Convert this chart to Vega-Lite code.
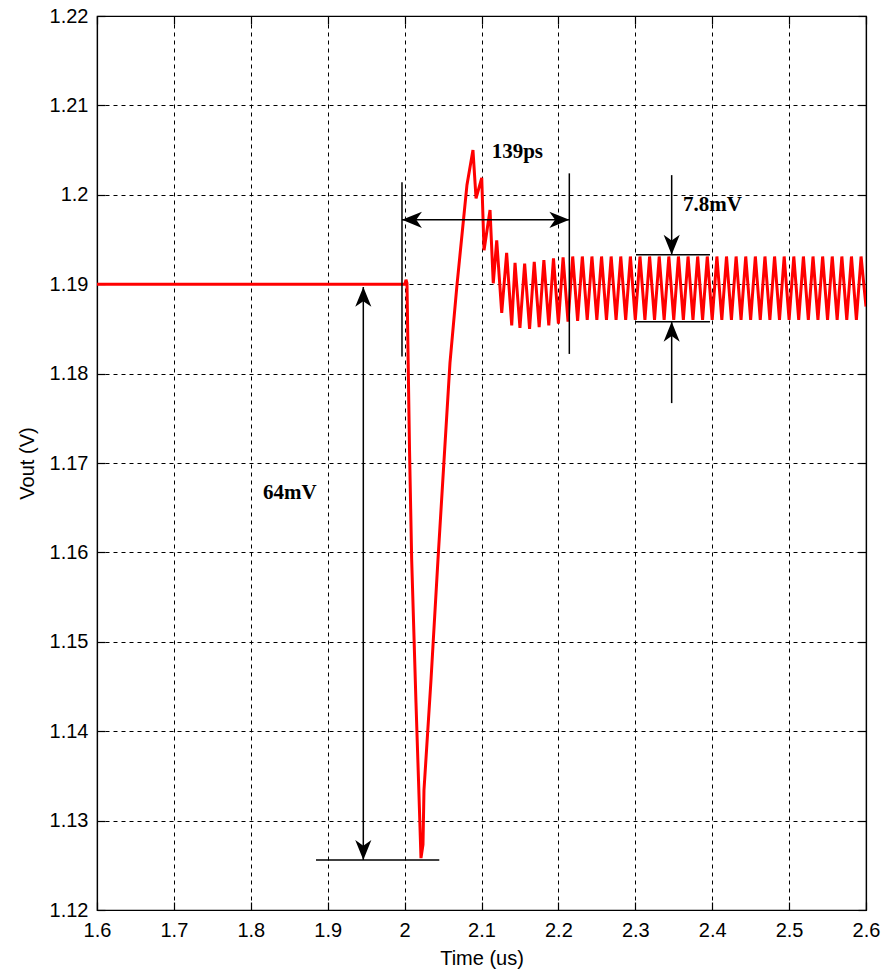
{
  "$schema": "https://vega.github.io/schema/vega-lite/v6.json",
  "width": 769,
  "height": 894,
  "autosize": "none",
  "padding": {"left": 97, "top": 16, "right": 18, "bottom": 67},
  "background": "white",
  "datasets": {
    "wave": [
      {"t": 1.6, "v": 1.19}, {"t": 2.0005, "v": 1.19}, {"t": 2.0018, "v": 1.1905}, {"t": 2.0031, "v": 1.1901},
      {"t": 2.0044, "v": 1.1826}, {"t": 2.0064, "v": 1.1715}, {"t": 2.0092, "v": 1.1592}, {"t": 2.0148, "v": 1.1432},
      {"t": 2.0181, "v": 1.1345}, {"t": 2.0213, "v": 1.1258}, {"t": 2.0239, "v": 1.1273}, {"t": 2.0252, "v": 1.1334},
      {"t": 2.0343, "v": 1.1457}, {"t": 2.0434, "v": 1.1592}, {"t": 2.059, "v": 1.1812}, {"t": 2.0681, "v": 1.1899},
      {"t": 2.0811, "v": 1.2011}, {"t": 2.0889, "v": 1.205}, {"t": 2.0929, "v": 1.1996}, {"t": 2.1003, "v": 1.2019},
      {"t": 2.1033, "v": 1.1938}, {"t": 2.1111, "v": 1.1983}, {"t": 2.1153, "v": 1.1901}, {"t": 2.1198, "v": 1.1949},
      {"t": 2.1263, "v": 1.1868}, {"t": 2.1327, "v": 1.1935}, {"t": 2.1393, "v": 1.1854}, {"t": 2.1436, "v": 1.1924},
      {"t": 2.15, "v": 1.1851}, {"t": 2.1561, "v": 1.1923}, {"t": 2.1625, "v": 1.185}, {"t": 2.1686, "v": 1.1925},
      {"t": 2.175, "v": 1.1852}, {"t": 2.1811, "v": 1.1927}, {"t": 2.1875, "v": 1.1854}, {"t": 2.1936, "v": 1.1929},
      {"t": 2.2, "v": 1.1856}, {"t": 2.2061, "v": 1.193}, {"t": 2.2125, "v": 1.1858}, {"t": 2.2186, "v": 1.1931},
      {"t": 2.225, "v": 1.1859}, {"t": 2.2311, "v": 1.1931}, {"t": 2.2375, "v": 1.186},
      {"t": 2.2436, "v": 1.1931}, {"t": 2.25, "v": 1.186}, {"t": 2.2561, "v": 1.1931}, {"t": 2.2625, "v": 1.186},
      {"t": 2.2686, "v": 1.1931}, {"t": 2.275, "v": 1.186}, {"t": 2.2811, "v": 1.1931}, {"t": 2.2875, "v": 1.186},
      {"t": 2.2936, "v": 1.1931}, {"t": 2.3, "v": 1.186}, {"t": 2.3061, "v": 1.1931}, {"t": 2.3125, "v": 1.186},
      {"t": 2.3186, "v": 1.1931}, {"t": 2.325, "v": 1.186}, {"t": 2.3311, "v": 1.1931}, {"t": 2.3375, "v": 1.186},
      {"t": 2.3436, "v": 1.1931}, {"t": 2.35, "v": 1.186}, {"t": 2.3561, "v": 1.1931}, {"t": 2.3625, "v": 1.186},
      {"t": 2.3686, "v": 1.1931}, {"t": 2.375, "v": 1.186}, {"t": 2.3811, "v": 1.1931}, {"t": 2.3875, "v": 1.186},
      {"t": 2.3936, "v": 1.1931}, {"t": 2.4, "v": 1.186}, {"t": 2.4061, "v": 1.1931}, {"t": 2.4125, "v": 1.186},
      {"t": 2.4186, "v": 1.1931}, {"t": 2.425, "v": 1.186}, {"t": 2.4311, "v": 1.1931}, {"t": 2.4375, "v": 1.186},
      {"t": 2.4436, "v": 1.1931}, {"t": 2.45, "v": 1.186}, {"t": 2.4561, "v": 1.1931}, {"t": 2.4625, "v": 1.186},
      {"t": 2.4686, "v": 1.1931}, {"t": 2.475, "v": 1.186}, {"t": 2.4811, "v": 1.1931}, {"t": 2.4875, "v": 1.186},
      {"t": 2.4936, "v": 1.1931}, {"t": 2.5, "v": 1.186}, {"t": 2.5061, "v": 1.1931}, {"t": 2.5125, "v": 1.186},
      {"t": 2.5186, "v": 1.1931}, {"t": 2.525, "v": 1.186}, {"t": 2.5311, "v": 1.1931}, {"t": 2.5375, "v": 1.186},
      {"t": 2.5436, "v": 1.1931}, {"t": 2.55, "v": 1.186}, {"t": 2.5561, "v": 1.1931}, {"t": 2.5625, "v": 1.186},
      {"t": 2.5686, "v": 1.1931}, {"t": 2.575, "v": 1.186}, {"t": 2.5811, "v": 1.1931}, {"t": 2.5875, "v": 1.186},
      {"t": 2.5936, "v": 1.1931}, {"t": 2.6, "v": 1.1875}
    ],
    "ann": [
      {"id": "L1", "t": 1.9966, "v": 1.2014}, {"id": "L1", "t": 1.9966, "v": 1.1819},
      {"id": "L2", "t": 2.2142, "v": 1.2024}, {"id": "L2", "t": 2.2142, "v": 1.1822},
      {"id": "H1", "t": 1.9966, "v": 1.1972}, {"id": "H1", "t": 2.2142, "v": 1.1972},
      {"id": "V64", "t": 1.9463, "v": 1.1897}, {"id": "V64", "t": 1.9463, "v": 1.1256},
      {"id": "B64", "t": 1.8848, "v": 1.1256}, {"id": "B64", "t": 2.0451, "v": 1.1256},
      {"id": "V78a", "t": 2.3473, "v": 1.2022}, {"id": "V78a", "t": 2.3473, "v": 1.1933},
      {"id": "V78b", "t": 2.3473, "v": 1.1858}, {"id": "V78b", "t": 2.3473, "v": 1.1767},
      {"id": "H78a", "t": 2.3009, "v": 1.1933}, {"id": "H78a", "t": 2.3971, "v": 1.1933},
      {"id": "H78b", "t": 2.3009, "v": 1.1858}, {"id": "H78b", "t": 2.3971, "v": 1.1858}
    ],
    "heads": [
      {"t": 1.9966, "v": 1.1972, "dir": "left"},
      {"t": 2.2142, "v": 1.1972, "dir": "right"},
      {"t": 1.9463, "v": 1.1897, "dir": "up"},
      {"t": 1.9463, "v": 1.1256, "dir": "down"},
      {"t": 2.3473, "v": 1.1933, "dir": "down"},
      {"t": 2.3473, "v": 1.1858, "dir": "up"}
    ],
    "labels": [
      {"t": 2.1132, "v": 1.2048, "text": "139ps"},
      {"t": 2.362, "v": 1.1989, "text": "7.8mV"},
      {"t": 1.8159, "v": 1.1666, "text": "64mV"}
    ]
  },
  "layer": [
    {
      "data": {"name": "wave"},
      "mark": {"type": "line", "color": "#ff0000", "strokeWidth": 3, "clip": true},
      "encoding": {
        "x": {"field": "t", "type": "quantitative", "scale": {"domain": [1.6, 2.6], "nice": false, "zero": false},
              "axis": {"orient": "bottom", "title": "Time (us)", "values": [1.6, 1.7, 1.8, 1.9, 2.0, 2.1, 2.2, 2.3, 2.4, 2.5, 2.6], "format": "~g", "grid": true, "labelPadding": 18, "titlePadding": 8, "labelFlush": false, "labelOverlap": false}},
        "y": {"field": "v", "type": "quantitative", "scale": {"domain": [1.12, 1.22], "nice": false, "zero": false},
              "axis": {"orient": "left", "title": "Vout (V)", "values": [1.12, 1.13, 1.14, 1.15, 1.16, 1.17, 1.18, 1.19, 1.2, 1.21, 1.22], "format": "~g", "grid": true, "labelPadding": 17, "titlePadding": 12, "labelFlush": false, "labelOverlap": false}}
      }
    },
    {
      "data": {"name": "ann"},
      "mark": {"type": "line", "color": "black", "strokeWidth": 1.5},
      "encoding": {
        "x": {"field": "t", "type": "quantitative", "axis": {"orient": "top", "title": null, "labels": false, "grid": false, "values": [1.6, 1.7, 1.8, 1.9, 2.0, 2.1, 2.2, 2.3, 2.4, 2.5, 2.6]}},
        "y": {"field": "v", "type": "quantitative", "axis": {"orient": "right", "title": null, "labels": false, "grid": false, "values": [1.12, 1.13, 1.14, 1.15, 1.16, 1.17, 1.18, 1.19, 1.2, 1.21, 1.22]}},
        "detail": {"field": "id"}
      }
    },
    {
      "data": {"name": "heads"},
      "transform": [{"filter": "datum.dir === 'up'"}],
      "mark": {"type": "point", "shape": "M0,0L-0.85,2.1L0,1.5L0.85,2.1Z", "filled": true, "color": "black", "opacity": 1, "size": 361, "angle": 0},
      "encoding": {"x": {"field": "t", "type": "quantitative", "axis": null}, "y": {"field": "v", "type": "quantitative", "axis": null}}
    },
    {
      "data": {"name": "heads"},
      "transform": [{"filter": "datum.dir === 'down'"}],
      "mark": {"type": "point", "shape": "M0,0L-0.85,2.1L0,1.5L0.85,2.1Z", "filled": true, "color": "black", "opacity": 1, "size": 361, "angle": 180},
      "encoding": {"x": {"field": "t", "type": "quantitative", "axis": null}, "y": {"field": "v", "type": "quantitative", "axis": null}}
    },
    {
      "data": {"name": "heads"},
      "transform": [{"filter": "datum.dir === 'left'"}],
      "mark": {"type": "point", "shape": "M0,0L-0.85,2.1L0,1.5L0.85,2.1Z", "filled": true, "color": "black", "opacity": 1, "size": 361, "angle": 270},
      "encoding": {"x": {"field": "t", "type": "quantitative", "axis": null}, "y": {"field": "v", "type": "quantitative", "axis": null}}
    },
    {
      "data": {"name": "heads"},
      "transform": [{"filter": "datum.dir === 'right'"}],
      "mark": {"type": "point", "shape": "M0,0L-0.85,2.1L0,1.5L0.85,2.1Z", "filled": true, "color": "black", "opacity": 1, "size": 361, "angle": 90},
      "encoding": {"x": {"field": "t", "type": "quantitative", "axis": null}, "y": {"field": "v", "type": "quantitative", "axis": null}}
    },
    {
      "data": {"name": "labels"},
      "mark": {"type": "text", "align": "left", "baseline": "middle", "font": "Liberation Serif", "fontWeight": "bold", "fontSize": 21, "color": "black"},
      "encoding": {"x": {"field": "t", "type": "quantitative", "axis": null}, "y": {"field": "v", "type": "quantitative", "axis": null}, "text": {"field": "text"}}
    }
  ],
  "resolve": {"axis": {"x": "independent", "y": "independent"}},
  "config": {
    "view": {"stroke": "black", "strokeWidth": 1.2},
    "axis": {
      "domainColor": "black", "domainWidth": 1.2, "tickColor": "black", "tickWidth": 1.2, "tickSize": -8,
      "labelColor": "black", "titleColor": "black", "labelFont": "Liberation Sans", "titleFont": "Liberation Sans",
      "labelFontSize": 20, "titleFontSize": 20, "titleFontWeight": "normal",
      "gridColor": "black", "gridDash": [4, 4], "gridOpacity": 1, "gridWidth": 1
    }
  }
}
